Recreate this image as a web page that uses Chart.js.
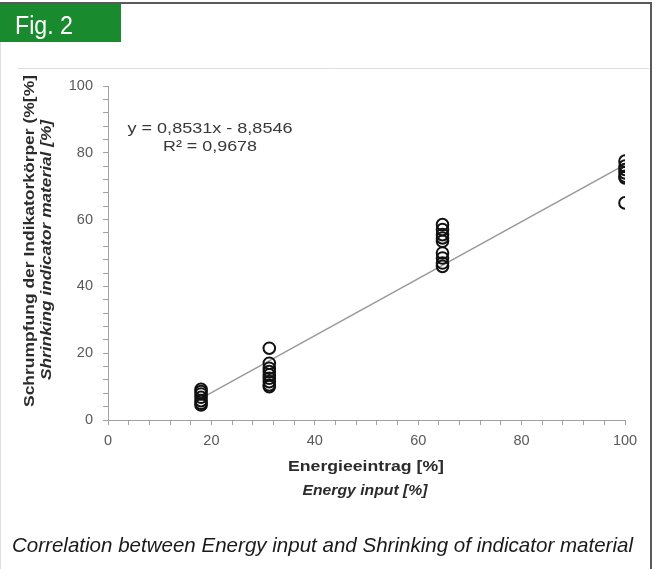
<!DOCTYPE html>
<html>
<head>
<meta charset="utf-8">
<script src="https://cdn.jsdelivr.net/npm/chart.js@4.4.1/dist/chart.umd.min.js"></script>
<style>
  html, body { margin: 0; padding: 0; background: #fff; overflow: hidden; }
  #wrap { position: absolute; left: 0; top: 0; width: 657px; height: 569px; }
</style>
</head>
<body>
<div id="wrap"><canvas id="shrinkChart" width="657" height="569"></canvas></div>
<script>
// Energy input [%] for each measured indicator body
const energyInput = [
    18, 18, 18, 18, 18, 18, 18,
    31.2, 31.2, 31.2, 31.2, 31.2, 31.2, 31.2, 31.2, 31.2,
    64.7, 64.7, 64.7, 64.7, 64.7, 64.7, 64.7, 64.7, 64.7,
    100, 100, 100, 100, 100, 100, 100
];
// Shrinking of indicator material [%]
const shrinkage = [
    9.2, 8.5, 7.8, 6.8, 5.8, 5.0, 4.5,
    21.5, 17, 15.5, 14.5, 13.5, 12.5, 11.5, 10.5, 10,
    58.5, 57, 55.5, 54.5, 53.5, 50, 48.5, 47, 46,
    77.5, 76, 75, 74, 73, 72.5, 65
];
// linear trend line from the figure
const trendSlope = 0.8531;
const trendIntercept = -8.8546;
const trendRange = [18, 100];
const axisTicks = [0, 20, 40, 60, 80, 100];

const pointData = energyInput.map((x, i) => ({ x: x, y: shrinkage[i] }));
const trendData = trendRange.map(x => ({ x: x, y: trendSlope * x + trendIntercept }));

function drawFitted(ctx, text, x, y, w, font, color, align, rotate, baseline) {
    ctx.save();
    ctx.font = font;
    ctx.fillStyle = color;
    const m = ctx.measureText(text).width;
    ctx.translate(x, y);
    if (rotate) ctx.rotate(-Math.PI / 2);
    ctx.scale(w / m, 1);
    ctx.textAlign = align;
    ctx.textBaseline = baseline || 'middle';
    ctx.fillText(text, 0, 0);
    ctx.restore();
}

const decorPlugin = {
    id: 'decor',
    beforeDraw(chart) {
        const ctx = chart.ctx;
        ctx.save();
        // frame
        ctx.fillStyle = '#fff';
        ctx.fillRect(0, 0, 657, 569);
        ctx.strokeStyle = '#dedede';
        ctx.lineWidth = 1;
        ctx.beginPath();
        ctx.moveTo(0.5, 4); ctx.lineTo(0.5, 569);
        ctx.moveTo(18, 68.5); ctx.lineTo(649, 68.5);
        ctx.stroke();
        ctx.strokeStyle = '#5a5a5a';
        ctx.lineWidth = 2;
        ctx.beginPath();
        ctx.moveTo(0, 3); ctx.lineTo(652, 3);
        ctx.moveTo(651, 2); ctx.lineTo(651, 569);
        ctx.stroke();
        // figure label box
        ctx.fillStyle = '#1a8a2e';
        ctx.fillRect(0, 4, 121, 38);
        ctx.restore();
        drawFitted(ctx, 'Fig. 2', 15, 34, 58, '26px "Liberation Sans Narrow", "Liberation Sans", sans-serif', '#fff', 'left', false, 'alphabetic');
    },
    afterDraw(chart) {
        const ctx = chart.ctx;
        const titleColor = '#2b2b2b';
        drawFitted(ctx, 'Schrumpfung der Indikatorkörper (%[%]', 30, 241, 332, 'bold 15.5px "Liberation Sans", Arial, sans-serif', titleColor, 'center', true);
        drawFitted(ctx, 'Shrinking indicator material [%]', 47, 250, 260, 'italic bold 15.5px "Liberation Sans", Arial, sans-serif', titleColor, 'center', true);
        drawFitted(ctx, 'Energieeintrag [%]', 366, 467, 156, 'bold 15.5px "Liberation Sans", Arial, sans-serif', titleColor, 'center', false);
        drawFitted(ctx, 'Energy input [%]', 365, 491, 125, 'italic bold 15.5px "Liberation Sans", Arial, sans-serif', titleColor, 'center', false);
        drawFitted(ctx, 'y = 0,8531x - 8,8546', 210, 129, 165, '15.5px "Liberation Sans", Arial, sans-serif', '#383838', 'center', false);
        drawFitted(ctx, 'R² = 0,9678', 210, 147, 94, '15.5px "Liberation Sans", Arial, sans-serif', '#383838', 'center', false);
        drawFitted(ctx, 'Correlation between Energy input and Shrinking of indicator material', 12, 552, 621,
            'italic 21px "Liberation Sans Narrow", "Liberation Sans", sans-serif', '#1a1a1a', 'left', false, 'alphabetic');
    }
};

function tickLabel(v) {
    return axisTicks.includes(v) ? v : '';
}

const axisFont = { family: '"Liberation Sans", Arial, sans-serif', size: 14.5 };

new Chart(document.getElementById('shrinkChart'), {
    type: 'scatter',
    data: {
        datasets: [
            {
                label: 'Messwerte',
                data: pointData,
                pointStyle: 'circle',
                pointRadius: 5.8,
                borderWidth: 2,
                borderColor: '#111',
                backgroundColor: 'rgba(0,0,0,0)',
                order: 1
            },
            {
                label: 'Trend',
                type: 'line',
                data: trendData,
                borderColor: '#9a9a9a',
                borderWidth: 1.5,
                pointRadius: 0,
                fill: false,
                order: 2
            }
        ]
    },
    plugins: [decorPlugin],
    options: {
        responsive: false,
        animation: false,
        events: [],
        layout: { padding: { left: 0, top: 86, right: 32, bottom: 119 } },
        plugins: {
            legend: { display: false },
            tooltip: { enabled: false }
        },
        scales: {
            x: {
                type: 'linear',
                min: 0,
                max: 100,
                afterFit: s => { s.height = 30; },
                ticks: {
                    stepSize: 4,
                    autoSkip: false,
                    maxRotation: 0,
                    color: '#595959',
                    font: axisFont,
                    padding: 7,
                    callback: tickLabel
                },
                grid: { drawOnChartArea: false, tickLength: 5, color: '#a0a0a0' },
                border: { color: '#a0a0a0' }
            },
            y: {
                type: 'linear',
                min: 0,
                max: 100,
                afterFit: s => { s.width = 108; },
                ticks: {
                    stepSize: 4,
                    autoSkip: false,
                    color: '#595959',
                    font: axisFont,
                    padding: 10,
                    callback: tickLabel
                },
                grid: { drawOnChartArea: false, tickLength: 5, color: '#a0a0a0' },
                border: { color: '#a0a0a0' }
            }
        }
    }
});
</script>
</body>
</html>
